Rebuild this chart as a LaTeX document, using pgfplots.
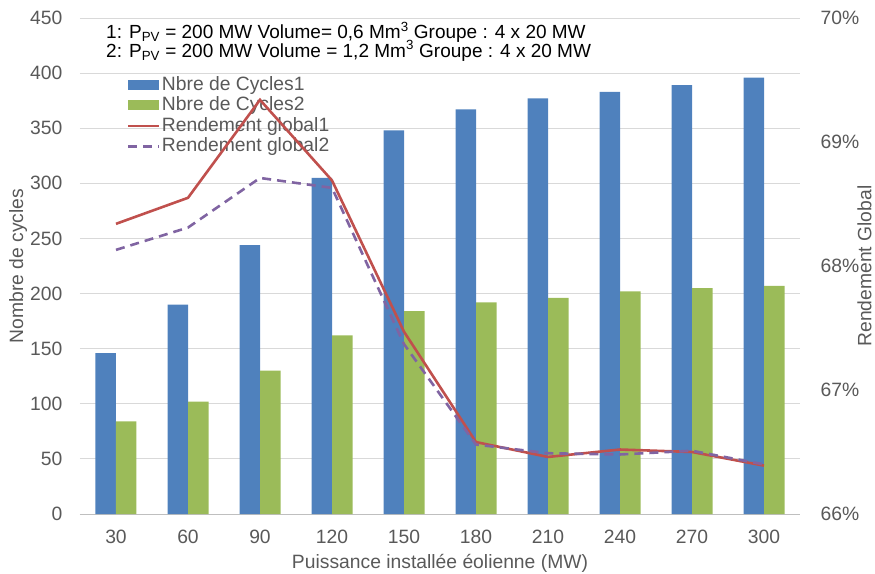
\documentclass[border=0pt]{standalone}
\usepackage{fontspec}
\setmainfont{Liberation Sans}
\usepackage{pgfplots}
\pgfplotsset{compat=1.18}
\definecolor{cblue}{HTML}{4F81BD}
\definecolor{cgreen}{HTML}{9BBB59}
\definecolor{cred}{HTML}{C0504D}
\definecolor{cpurple}{HTML}{8064A2}
\definecolor{labgray}{HTML}{595959}
\definecolor{gridgray}{HTML}{D9D9D9}
\definecolor{axgray}{HTML}{BFBFBF}
\begin{document}
\fontsize{19.3bp}{23bp}\selectfont
\begin{tikzpicture}
\path[use as bounding box] (-80bp,-60bp) rectangle (795bp,514bp);
\begin{axis}[
  scale only axis, width=720bp, height=496bp,
  xmin=-0.5, xmax=9.5, ymin=0, ymax=450,
  xtick={0,...,9}, xticklabels={30,60,90,120,150,180,210,240,270,300},
  ytick={0,50,...,450},
  ymajorgrids, grid style={draw=gridgray, line width=0.9bp},
  axis x line*=bottom, axis y line*=left,
  x axis line style={draw=axgray, line width=0.9bp, -},
  y axis line style={draw=none},
  major tick length=0pt,
  /pgf/number format/assume math mode=true,
  tick label style={text=labgray, font=\fontsize{19.3bp}{23bp}\selectfont},
  xticklabel style={anchor=center, yshift=-23bp},
  yticklabel style={xshift=-11bp},
  ylabel={Nombre de cycles},
  ylabel style={at={(axis description cs:-0.086,0.5)}, anchor=center, text=labgray},
  xlabel={Puissance installée éolienne (MW)},
  xlabel style={at={(axis description cs:0.5,-0.0988)}, anchor=center, text=labgray},
  ybar=0pt, bar width=20.5bp,
  legend style={at={(axis description cs:0.061,0.889)}, anchor=north west, draw=none, fill=none,
    font=\fontsize{19.3bp}{21bp}\selectfont, text=labgray, row sep=1.2bp,
    nodes={inner sep=1.2bp}},
  legend cell align=left,
]
\addplot[fill=cblue, draw=none, legend image code/.code={\fill[cblue] (0,-5bp) rectangle (31bp,5bp);}]
  coordinates {(0,146) (1,190) (2,244) (3,305) (4,348) (5,367) (6,377) (7,383) (8,389) (9,396)};
\addlegendentry{Nbre de Cycles1}
\addplot[fill=cgreen, draw=none, legend image code/.code={\fill[cgreen] (0,-5bp) rectangle (31bp,5bp);}]
  coordinates {(0,84) (1,102) (2,130) (3,162) (4,184) (5,192) (6,196) (7,202) (8,205) (9,207)};
\addlegendentry{Nbre de Cycles2}
\addlegendimage{legend image code/.code={\draw[cred, line width=2.6bp] (0,0) -- (31bp,0);}}
\addlegendentry{Rendement global1}
\addlegendimage{legend image code/.code={\draw[cpurple, line width=2.6bp, dash pattern=on 9bp off 6bp] (0,0) -- (31bp,0);}}
\addlegendentry{Rendement global2}
\end{axis}
\begin{axis}[
  scale only axis, width=720bp, height=496bp,
  xmin=-0.5, xmax=9.5, ymin=66, ymax=70,
  axis x line=none, axis y line*=right,
  y axis line style={draw=none},
  ytick={66,67,68,69,70},
  yticklabel={\pgfmathprintnumber{\tick}\%},
  major tick length=0pt,
  /pgf/number format/assume math mode=true,
  tick label style={text=labgray, font=\fontsize{19.3bp}{23bp}\selectfont},
  yticklabel style={xshift=14bp},
  ylabel={Rendement Global},
  ylabel style={at={(axis description cs:1.0895,0.5)}, anchor=center, text=labgray},
]
\addplot[cred, line width=2.6bp, mark=none]
  coordinates {(0,68.34) (1,68.55) (2,69.34) (3,68.69) (4,67.47) (5,66.58) (6,66.46) (7,66.52) (8,66.50) (9,66.39)};
\addplot[cpurple, line width=2.6bp, dash pattern=on 9bp off 6bp, mark=none]
  coordinates {(0,68.13) (1,68.31) (2,68.71) (3,68.63) (4,67.37) (5,66.56) (6,66.49) (7,66.48) (8,66.51) (9,66.40)};
\end{axis}
\node[anchor=base west, inner sep=0pt, font=\fontsize{19bp}{23bp}\selectfont] at (26bp,475.2bp) {1: P\textsubscript{PV} = 200 MW Volume= 0,6 Mm\textsuperscript{3} Groupe : 4 x 20 MW};
\node[anchor=base west, inner sep=0pt, font=\fontsize{19bp}{23bp}\selectfont] at (26bp,456.8bp) {2: P\textsubscript{PV} = 200 MW Volume = 1,2 Mm\textsuperscript{3} Groupe : 4 x 20 MW};
\end{tikzpicture}
\end{document}
